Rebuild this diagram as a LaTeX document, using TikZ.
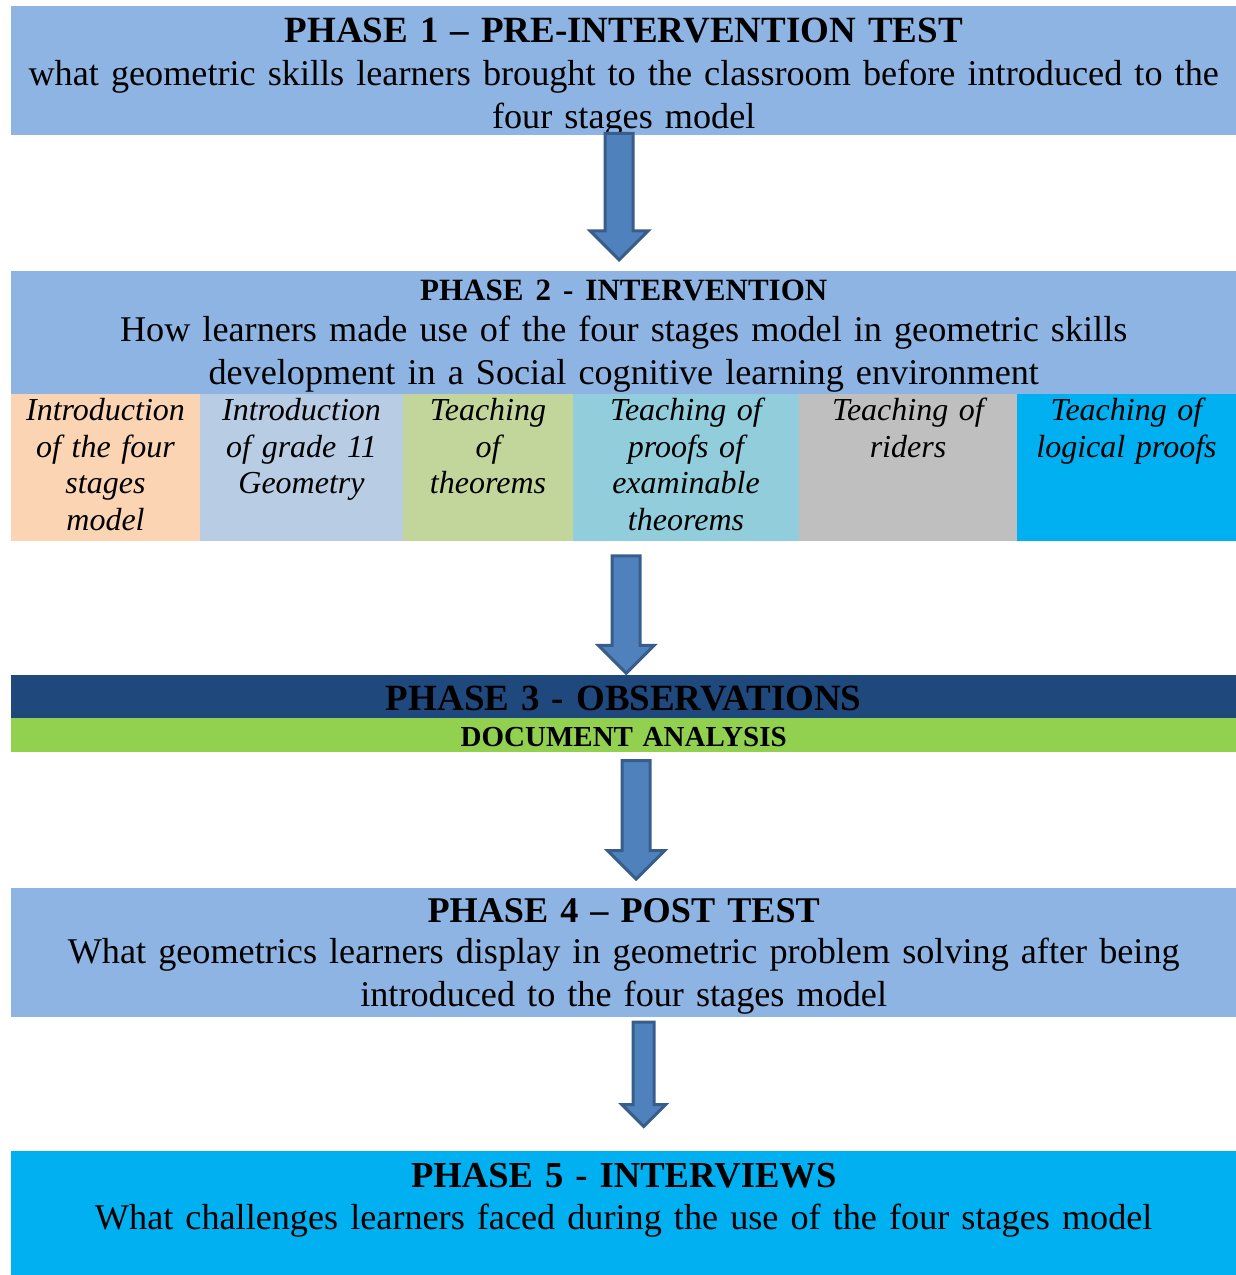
\documentclass[tikz,border=0pt]{standalone}
\usepackage{fontspec}
\setmainfont{Liberation Serif}
\usetikzlibrary{positioning}
\usetikzlibrary{calc}
\usetikzlibrary{shapes.arrows}

\definecolor{phaseblue}{HTML}{8EB4E3}
\definecolor{stagepeach}{HTML}{FBD4B4}
\definecolor{stagesteel}{HTML}{B8CCE4}
\definecolor{stagegreen}{HTML}{C2D69B}
\definecolor{stageteal}{HTML}{92CDDC}
\definecolor{stagegray}{HTML}{BFBFBF}
\definecolor{brightcyan}{HTML}{00B0F0}
\definecolor{navyband}{HTML}{1F497D}
\definecolor{limeband}{HTML}{92D050}
\definecolor{arrowfill}{HTML}{4F81BD}
\definecolor{arrowedge}{HTML}{385D8A}

\begin{document}
\begin{tikzpicture}[
    x=1pt, y=1pt,
    node distance=135pt,
    phase/.style={
        fill=phaseblue, inner sep=0pt,
        text width=1225pt, align=center,
        font=\fontsize{36.2}{43}\selectfont
    },
    stage/.style={
        fill=#1, draw=#1, line width=0.6pt,
        inner sep=0pt, outer sep=0pt, align=center,
        text height=27pt, text depth=119pt,
        font=\fontsize{32}{36.5}\selectfont\itshape
    },
    blockarrow/.style={
        single arrow, draw=arrowedge, fill=arrowfill,
        line width=3pt, inner xsep=0pt,
        single arrow tip angle=90,
        rotate=-90, anchor=tail
    }
]
\useasboundingbox (-11,6) rectangle (1225,-1269);

% phase boxes
\node[phase, anchor=north west, text height=36pt, text depth=93pt] (p1) at (0,0) {
    {\fontsize{37}{43}\selectfont\bfseries PHASE 1 – PRE-INTERVENTION TEST} \\
    what geometric skills learners brought to the classroom before introduced to the \\
    four stages model
};
\node[phase, below=of p1, text height=30pt, text depth=93pt] (p2) {
    {\fontsize{31}{43}\selectfont\bfseries PHASE 2 - INTERVENTION}\\[-2pt]
    How learners made use of the four stages model in geometric skills \\
    development in a Social cognitive learning environment
};

% the six teaching stages under phase 2
\node[stage=stagepeach, text width=189pt, anchor=north west] (s1) at (p2.south west) {
    Introduction \\ of the four \\ stages \\ model
};
\node[stage=stagesteel, text width=203pt, right=0pt of s1] (s2) {
    Introduction \\ of grade 11 \\ Geometry
};
\node[stage=stagegreen, text width=170pt, right=0pt of s2] (s3) {
    Teaching \\ of \\ theorems
};
\node[stage=stageteal, text width=226pt, right=0pt of s3] (s4) {
    Teaching of \\ proofs of \\ examinable \\ theorems
};
\node[stage=stagegray, text width=218pt, right=0pt of s4] (s5) {
    Teaching of \\ riders
};
\node[stage=brightcyan, text width=219pt, right=0pt of s5] (s6) {
    Teaching of \\ logical proofs
};

\node[phase, fill=navyband, below=of s1.south west, anchor=north west,
      text height=35pt, text depth=8pt] (p3) {
    {\fontsize{37}{43}\selectfont\bfseries PHASE 3 - OBSERVATIONS}
};
\node[phase, fill=limeband, below=0pt of p3, text height=28pt, text depth=6pt,
      font=\fontsize{29}{34}\selectfont] (docs) {
    \textbf{DOCUMENT ANALYSIS}
};
\node[phase, below=of docs, text height=35pt, text depth=94pt] (p4) {
    {\fontsize{36.2}{43}\selectfont\bfseries PHASE 4 – POST TEST} \\[-2pt]
    What geometrics learners display in geometric problem solving after being \\
    introduced to the four stages model
};
\node[phase, fill=brightcyan, below=134pt of p4, text height=36pt, text depth=90pt] (p5) {
    {\fontsize{36.6}{43}\selectfont\bfseries PHASE 5 - INTERVIEWS} \\[-1pt]
    What challenges learners faced during the use of the four stages model
};

% block arrows between the phases
\node[blockarrow, minimum height=126.5pt, minimum width=55pt, inner ysep=12.5pt,
      single arrow head extend=15pt] (a1) at ($(p1.south)+(-4.5,3.5)$) {};
\node[blockarrow, minimum height=117.5pt, minimum width=53pt, inner ysep=12.5pt,
      single arrow head extend=14pt] (a2) at ($(s1.south -| p2.south)+(2.5,-14.5)$) {};
\node[blockarrow, minimum height=118.5pt, minimum width=54pt, inner ysep=12.5pt,
      single arrow head extend=14.5pt] (a3) at ($(docs.south)+(12.5,-6.5)$) {};
\node[blockarrow, minimum height=104.5pt, minimum width=41pt, inner ysep=9pt,
      single arrow head extend=11.5pt] (a4) at ($(p4.south)+(20,-3.5)$) {};
\end{tikzpicture}
\end{document}
